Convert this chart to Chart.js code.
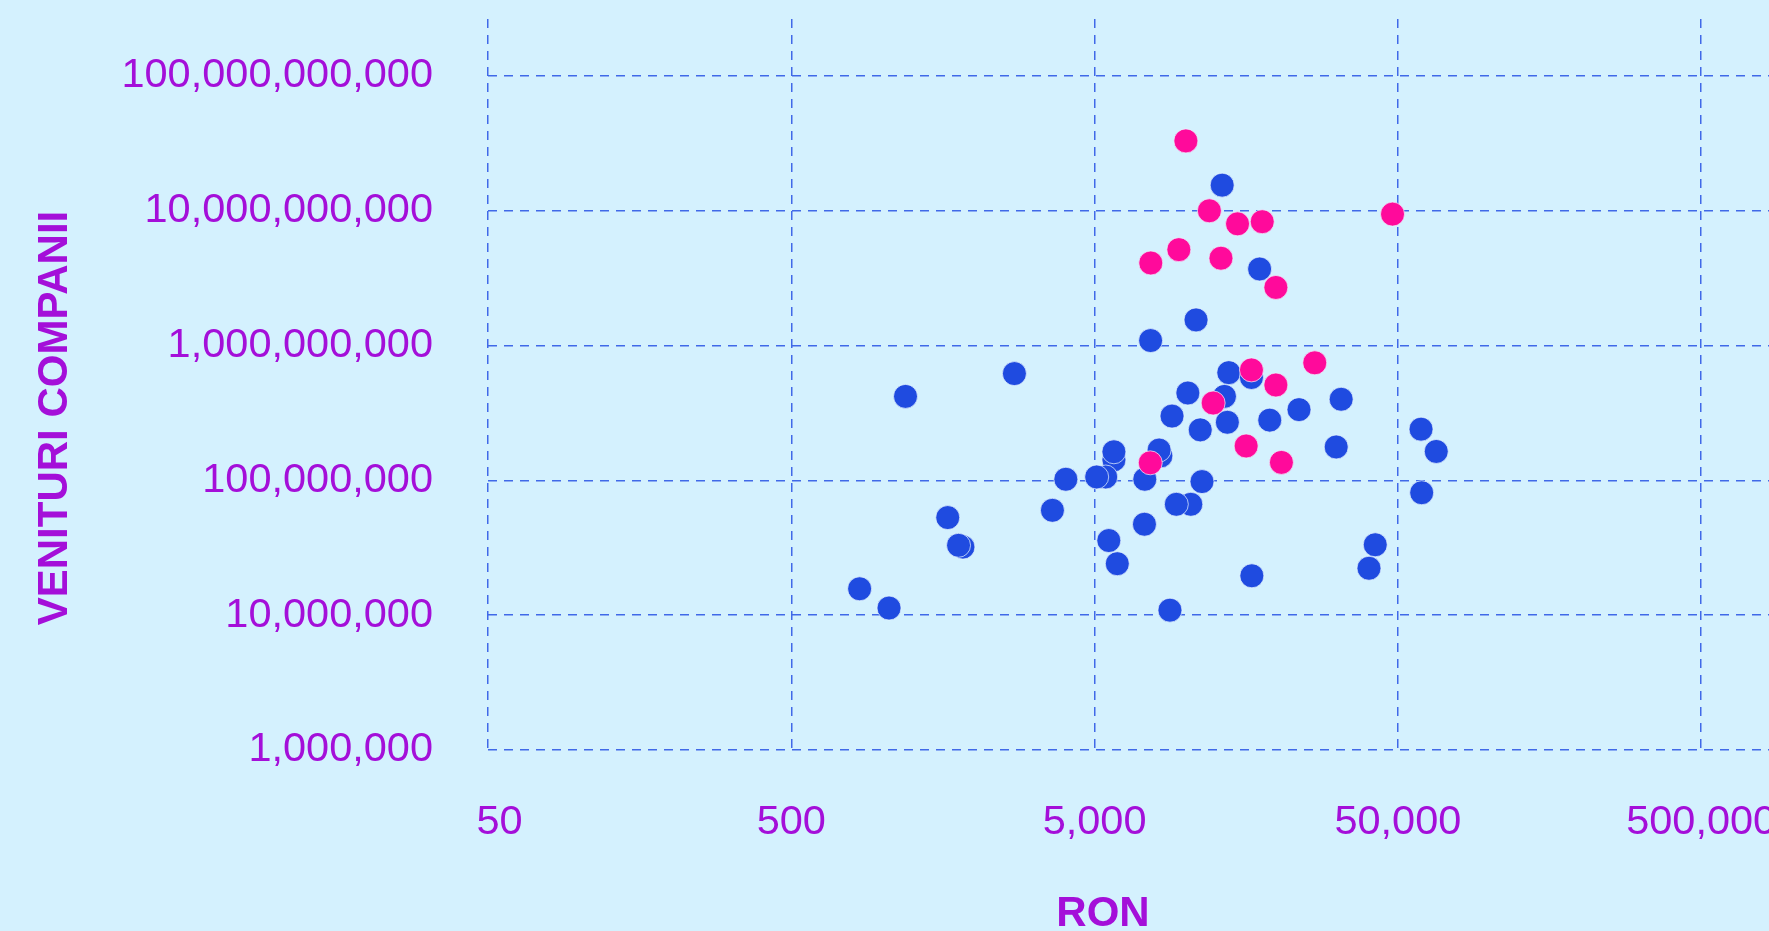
<!DOCTYPE html>
<html>
<head>
<meta charset="utf-8">
<script src="https://cdn.jsdelivr.net/npm/chart.js@4.4.1/dist/chart.umd.min.js"></script>
<style>
html,body{margin:0;padding:0;overflow:hidden;background:#d4f1fe;width:1769px;height:931px}
#wrap{position:absolute;left:0;top:0;width:1800px;height:931px}
</style>
</head>
<body>
<div id="wrap"><canvas id="c" width="1800" height="931"></canvas></div>
<script>
// Tick values
const X_TICKS = [50, 500, 5000, 50000, 500000];
const Y_TICKS = [1e6, 1e7, 1e8, 1e9, 1e10, 1e11];

// Axis titles
const X_TITLE = 'RON';
const Y_TITLE = 'VENITURI COMPANII';

// Pink series (RON, venituri)
const PINK_X = [10000, 11950, 14800, 17850, 48000, 9480, 7660, 13050, 19800, 26600, 16450, 19800, 12300, 15800, 20650, 7630];
const PINK_Y = [3.3e10, 1.0e10, 8.0e9, 8.3e9, 9.45e9, 5.15e9, 4.1e9, 4.45e9, 2.7e9, 7.45e8, 6.6e8, 5.1e8, 3.75e8, 1.8e8, 1.36e8, 1.35e8];

// Blue series (RON, venituri)
const BLUE_X = [13170, 17500, 10800, 7650, 2720, 1190, 13850, 16450, 10150, 13400,
                9000, 13700, 11150, 18900, 23600, 32500, 31300, 59600, 66900, 59900,
                42100, 40150, 16500, 8860, 8270, 8160, 7320, 11300, 5790, 5790,
                5440, 5080, 4020, 3630, 10380, 9300, 7300, 5570, 5940, 1640,
                1840, 1780, 840, 1050];
const BLUE_Y = [1.55e10, 3.7e9, 1.55e9, 1.09e9, 6.2e8, 4.2e8, 6.3e8, 5.8e8, 4.45e8, 4.2e8,
                3.0e8, 2.7e8, 2.37e8, 2.8e8, 3.35e8, 4.0e8, 1.77e8, 2.4e8, 1.64e8, 8.1e7,
                3.33e7, 2.23e7, 1.96e7, 1.09e7, 1.52e8, 1.68e8, 1.02e8, 9.8e7, 1.42e8, 1.63e8,
                1.06e8, 1.06e8, 1.02e8, 6.0e7, 6.65e7, 6.65e7, 4.73e7, 3.58e7, 2.41e7, 5.3e7,
                3.2e7, 3.3e7, 1.57e7, 1.13e7];

const PURPLE = '#a40fd9';
const PINK = '#ff0a9b';
const BLUE = '#1f4be0';
const EDGE = 'rgba(235,248,255,0.7)';
const GRID = '#4069e8';
const FONT = '"Liberation Sans", Arial, Helvetica, sans-serif';

const fmt = v => Number(v).toLocaleString('en-US');

const axisTitles = {
  id: 'axisTitles',
  afterDraw(chart) {
    const ctx = chart.ctx;
    ctx.save();
    ctx.fillStyle = PURPLE;
    ctx.font = 'bold 42px ' + FONT;
    ctx.textAlign = 'center';
    ctx.textBaseline = 'middle';
    ctx.fillText(X_TITLE, 1103, 914);
    ctx.translate(55, 418);
    ctx.rotate(-Math.PI / 2);
    ctx.fillText(Y_TITLE, 0, 0);
    ctx.restore();
  }
};

const noPad = s => { s.paddingTop = 0; s.paddingBottom = 0; s.paddingLeft = 0; s.paddingRight = 0; };

new Chart(document.getElementById('c'), {
  type: 'scatter',
  data: {
    datasets: [
      {
        label: 'pink',
        data: PINK_X.map((x, i) => ({x: x, y: PINK_Y[i]})),
        backgroundColor: PINK,
        borderColor: EDGE,
        borderWidth: 1,
        pointRadius: 12,
        pointHoverRadius: 12
      },
      {
        label: 'blue',
        data: BLUE_X.map((x, i) => ({x: x, y: BLUE_Y[i]})),
        backgroundColor: BLUE,
        borderColor: EDGE,
        borderWidth: 1,
        pointRadius: 12,
        pointHoverRadius: 12
      }
    ]
  },
  options: {
    responsive: false,
    animation: false,
    devicePixelRatio: 1,
    layout: {autoPadding: false, padding: {top: 19, left: 0, right: 0, bottom: 0}},
    plugins: {legend: {display: false}, tooltip: {enabled: false}},
    scales: {
      x: {
        type: 'logarithmic',
        position: 'bottom',
        min: 50,
        max: 1058600,
        afterBuildTicks: s => { s.ticks = X_TICKS.map(v => ({value: v})); },
        afterFit: s => { s.height = 181; noPad(s); },
        grid: {color: GRID, lineWidth: 1.5, drawTicks: false},
        border: {display: false, dash: [9, 7]},
        ticks: {
          color: PURPLE, font: {family: FONT, size: 41.5}, padding: 48,
          maxRotation: 0, minRotation: 0, autoSkip: false,
          callback: (v, i) => (i === 0 ? '  ' : '') + fmt(v)
        }
      },
      y: {
        type: 'logarithmic',
        position: 'left',
        min: 1e6,
        max: 2.648e11,
        afterBuildTicks: s => { s.ticks = Y_TICKS.map(v => ({value: v})); },
        afterFit: s => { s.width = 488; noPad(s); },
        grid: {color: GRID, lineWidth: 1.5, drawTicks: false},
        border: {display: false, dash: [9, 7]},
        ticks: {
          color: PURPLE, font: {family: FONT, size: 41.5}, padding: 55,
          autoSkip: false,
          callback: v => fmt(v)
        }
      }
    }
  },
  plugins: [axisTitles]
});
</script>
</body>
</html>
